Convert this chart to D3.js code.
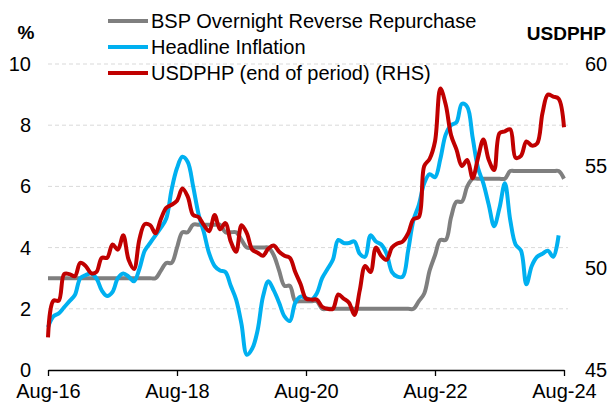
<!DOCTYPE html>
<html>
<head>
<meta charset="utf-8">
<script src="https://cdn.jsdelivr.net/npm/d3@7"></script>
<style>
  body { margin: 0; background: #fff; }
  svg { display: block; font-family: "Liberation Sans", Arial, sans-serif; }
</style>
</head>
<body>
<svg id="chart" width="607" height="403"></svg>
<script>
// monthly, Aug-16 (index 0) .. Aug-24 (index 96)
const tickIdx = [0, 24, 48, 72, 96];
const tickLabels = ["Aug-16", "Aug-18", "Aug-20", "Aug-22", "Aug-24"];
const leftTicks = [0, 2, 4, 6, 8, 10];
const rightTicks = [45, 50, 55, 60];

const seriesNames = ["BSP Overnight Reverse Repurchase", "Headline Inflation", "USDPHP (end of period) (RHS)"];

const bspRate = [
  3, 3, 3, 3, 3, 3, 3, 3, 3, 3, 3, 3, 3, 3, 3, 3, 3, 3, 3, 3, 3,
  3.25, 3.5, 3.5, 4, 4.5, 4.5, 4.75, 4.75, 4.75, 4.75, 4.75, 4.75,
  4.5, 4.5, 4.5, 4.25, 4, 4, 4, 4, 4, 3.75, 3.25, 2.75, 2.75, 2.25,
  2.25, 2.25, 2.25, 2.25,
  2, 2, 2, 2, 2, 2, 2, 2, 2, 2, 2, 2, 2, 2, 2, 2, 2, 2,
  2.25, 2.5, 3.25, 3.75, 4.25, 4.25, 5, 5.5, 5.5, 6, 6.25,
  6.25, 6.25, 6.25, 6.25, 6.25, 6.25,
  6.5, 6.5, 6.5, 6.5, 6.5, 6.5, 6.5, 6.5, 6.5, 6.5,
  6.25
];

const inflation = [
  1.4, 1.75, 1.85, 2.05, 2.25, 2.45, 3.0, 3.1, 3.15, 3.0,
  2.6, 2.42, 2.55, 3.0, 3.15, 3.05, 2.9, 3.3, 3.9, 4.15,
  4.4, 4.65, 4.95, 5.9, 6.6, 6.97, 6.8, 6.0, 5.1, 4.5,
  3.8, 3.4, 3.25, 3.2, 2.75, 2.3, 1.5, 0.5, 0.7, 1.3,
  2.4, 2.9, 2.6, 2.2, 1.75, 1.6, 2.2, 2.4, 2.35, 2.3,
  2.5, 3.0, 3.3, 3.6, 4.25, 4.15, 4.15, 4.2, 3.8, 3.7,
  4.4, 4.2, 4.1, 3.8, 3.2, 3.05, 3.05, 3.9, 4.9, 5.4,
  6.1, 6.4, 6.3, 6.9, 7.7, 8.0, 8.1, 8.7, 8.6, 7.6,
  6.6, 6.1, 5.4, 4.7, 5.3, 6.1, 4.9, 4.1, 3.9, 2.8,
  3.4, 3.7, 3.8, 3.9, 3.7, 4.4
];

const usdphp = [
  46.6, 48.4, 48.4, 49.7, 49.7, 49.6, 50.25, 50.1, 49.75, 49.8,
  50.5, 50.5, 51.15, 50.9, 51.6, 50.4, 49.95, 51.4, 52.15, 52.1,
  51.7, 52.4, 52.95, 53.1, 53.3, 53.9, 53.5, 52.6, 52.5, 52.1,
  51.8, 52.6, 51.9, 52.2, 51.3, 50.8, 52.1, 51.7, 50.9, 50.75,
  50.6, 50.95, 51.1, 50.8, 50.6, 50.5, 49.8, 49.2, 48.5, 48.45,
  48.45, 48.1, 48.0, 48.0, 48.7, 48.5, 48.3, 47.7, 48.9, 50.1,
  49.8, 51.0, 50.6, 50.4, 51.0, 51.2, 51.3, 51.7, 52.4, 52.5,
  55.0, 55.35, 56.2, 58.8, 58.0, 56.5, 55.8, 55.0, 55.3, 54.4,
  55.4, 56.3, 55.3, 54.8, 56.6, 56.7, 56.8, 55.4, 55.5, 56.2,
  56.0, 56.1, 57.6, 58.5, 58.4, 58.3, 56.9
];

const colors = ["#7f7f7f", "#00b0f0", "#c00000"];

const svg = d3.select("#chart");
const x = d3.scaleLinear().domain([0, 96]).range([48, 564]);
const yL = d3.scaleLinear().domain([0, 10]).range([370, 64]);
const yR = d3.scaleLinear().domain([45, 60]).range([370, 64]);

// gridlines
svg.append("g")
  .selectAll("line")
  .data(leftTicks.filter(d => d > 0))
  .join("line")
  .attr("x1", 48).attr("x2", 568)
  .attr("y1", d => yL(d)).attr("y2", d => yL(d))
  .attr("stroke", "#d9d9d9")
  .attr("stroke-width", 1)
  .attr("stroke-dasharray", "4,3");

// left axis labels
const leftAxis = svg.append("g")
  .attr("transform", "translate(31,0)")
  .call(d3.axisLeft(yL).tickValues(leftTicks).tickSize(0).tickPadding(0));
leftAxis.select(".domain").remove();
leftAxis.selectAll("text").attr("font-size", 20).attr("fill", "#000").attr("font-family", null);

// right axis labels
const rightAxis = svg.append("g")
  .attr("transform", "translate(585,0)")
  .call(d3.axisRight(yR).tickValues(rightTicks).tickSize(0).tickPadding(0));
rightAxis.select(".domain").remove();
rightAxis.selectAll("text").attr("font-size", 20).attr("fill", "#000").attr("font-family", null);

// bottom axis
const bottomAxis = svg.append("g")
  .attr("transform", "translate(0,370)")
  .call(d3.axisBottom(x).tickValues(tickIdx).tickFormat((d, i) => tickLabels[i]).tickSize(6).tickSizeOuter(0).tickPadding(8));
bottomAxis.select(".domain").attr("stroke", "#000").attr("stroke-width", 1.3);
bottomAxis.selectAll(".tick line").attr("stroke", "#000").attr("stroke-width", 1.3);
bottomAxis.selectAll("text").attr("font-size", 20).attr("fill", "#000").attr("font-family", null);

// series
const curve = d3.curveCatmullRom.alpha(0.5);
const lineL = d3.line().x((d, i) => x(i)).y(d => yL(d)).curve(curve);
const lineR = d3.line().x((d, i) => x(i)).y(d => yR(d)).curve(curve);

svg.append("path").attr("d", lineL(bspRate))
  .attr("fill", "none").attr("stroke", colors[0]).attr("stroke-width", 4).attr("stroke-linejoin", "round");
svg.append("path").attr("d", lineL(inflation))
  .attr("fill", "none").attr("stroke", colors[1]).attr("stroke-width", 4).attr("stroke-linejoin", "round");
svg.append("path").attr("d", lineR(usdphp))
  .attr("fill", "none").attr("stroke", colors[2]).attr("stroke-width", 4).attr("stroke-linejoin", "round");

// axis titles
svg.append("text").attr("x", 26).attr("y", 32).attr("text-anchor", "middle")
  .attr("dominant-baseline", "central").attr("font-size", 19).attr("font-weight", "bold").text("%");
svg.append("text").attr("x", 606).attr("y", 33).attr("text-anchor", "end")
  .attr("dominant-baseline", "central").attr("font-size", 19).attr("font-weight", "bold").text("USDPHP");

// legend
const legend = svg.append("g");
seriesNames.forEach((name, i) => {
  const cy = 21 + i * 26;
  legend.append("line").attr("x1", 108).attr("x2", 148).attr("y1", cy).attr("y2", cy)
    .attr("stroke", colors[i]).attr("stroke-width", 4);
  legend.append("text").attr("x", 151).attr("y", cy).attr("dominant-baseline", "central")
    .attr("font-size", 20).attr("fill", "#000").text(name);
});
</script>
</body>
</html>
